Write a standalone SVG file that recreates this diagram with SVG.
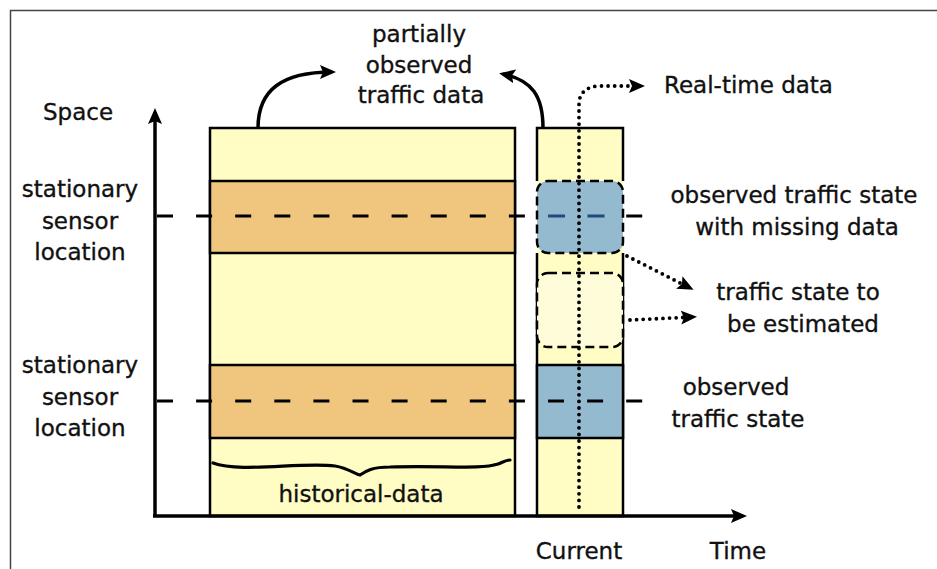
<svg xmlns="http://www.w3.org/2000/svg" width="937" height="569" viewBox="0 0 937 569">
<defs>
<style>
text{font-family:"DejaVu Sans","Liberation Sans",sans-serif;font-size:23px;fill:#111;stroke:#111;stroke-width:0.35;}
.mid{text-anchor:middle;}
.ax{stroke:#000;stroke-width:3.5;fill:none;}
.ln{stroke:#000;stroke-width:2.5;fill:none;}
.dash{stroke:#000;stroke-width:3;stroke-dasharray:16 23.1;fill:none;}
.dot{stroke:#000;stroke-width:3.8;stroke-linecap:round;stroke-dasharray:0 6.6;fill:none;}
.curve{stroke:#000;stroke-width:3.5;fill:none;}
</style>
<marker id="ahb" markerWidth="16" markerHeight="16" refX="12" refY="8" orient="auto" markerUnits="userSpaceOnUse" viewBox="0 0 16 16">
<path d="M0,1 L16,8 L0,15 L3,8 Z" fill="#000"/>
</marker>
</defs>
<rect width="937" height="569" fill="#fff"/>
<path d="M10.5 569 V10.5 H937" stroke="#444" stroke-width="1.5" fill="none"/>

<g id="historical">
<rect x="210" y="128" width="305" height="388" fill="#FFFDC4" stroke="#000" stroke-width="2.5"/>
<rect x="210" y="181" width="305" height="72" fill="#F0C67F" stroke="#000" stroke-width="2.5"/>
<rect x="210" y="365" width="305" height="73" fill="#F0C67F" stroke="#000" stroke-width="2.5"/>
<path d="M213 463 C240 473 300 462 335 466 C348 468 355 474 360 475 C366 471 372 467 390 467 C440 465 480 470 498 464 C503 462 506 460 510 460" stroke="#000" stroke-width="3.2" fill="none" stroke-linecap="round"/>
<text class="mid" x="361" y="502">historical-data</text>
</g>

<g id="current">
<rect x="537" y="128" width="86" height="388" fill="#FFFDC4"/>
<path d="M537 181 V128 H623 V181 M537 253 V516 H623 V253" class="ln"/>
<rect x="537" y="273" width="86" height="74" rx="11" fill="#FFFDD9"/>
<rect x="537" y="273" width="86" height="74" rx="11" fill="none" stroke="#000" stroke-width="2.5" stroke-dasharray="9 5"/>
<rect x="537" y="365" width="86" height="73" fill="#94BAD0" stroke="#000" stroke-width="2.5"/>
</g>

<g id="sensor-lines">
<path d="M157 216 H645" class="dash"/>
<path d="M157 401 H645" class="dash"/>
</g>

<g id="missing">
<rect x="537" y="181" width="86" height="72" rx="11" fill="#94BAD0"/>
<path d="M548 216 H565 M587.5 216 H604.5" stroke="#1F4A7A" stroke-width="3"/>
<rect x="537" y="181" width="86" height="72" rx="11" fill="none" stroke="#000" stroke-width="2.5" stroke-dasharray="9 5"/>
</g>

<g id="axes">
<path d="M155 516 V112" class="ax" marker-end="url(#ahb)"/>
<path d="M153 516 H743" class="ax" marker-end="url(#ahb)"/>
</g>

<g id="connectors">
<path d="M258 128 C258 90 282 72 332 72" class="curve" marker-end="url(#ahb)"/>
<path d="M543 128 C543 96 532 80 503 74" class="curve" marker-end="url(#ahb)"/>
<path d="M579 507 V104 C579 92 588 86 600 86 H641" class="dot" marker-end="url(#ahb)"/>
<path d="M627 256 L690 288" class="dot" marker-end="url(#ahb)"/>
<path d="M630 320 L693 317" class="dot" marker-end="url(#ahb)"/>
</g>

<g id="labels">
<text class="mid" x="78" y="120">Space</text>
<text class="mid" x="80" y="197">stationary</text>
<text class="mid" x="80" y="229">sensor</text>
<text class="mid" x="80" y="260">location</text>
<text class="mid" x="80" y="373">stationary</text>
<text class="mid" x="80" y="405">sensor</text>
<text class="mid" x="80" y="436">location</text>
<text class="mid" x="419" y="42">partially</text>
<text class="mid" x="419" y="73">observed</text>
<text class="mid" x="421" y="103">traffic data</text>
<text x="664" y="93">Real-time data</text>
<text class="mid" x="794" y="203">observed traffic state</text>
<text class="mid" x="797" y="235">with missing data</text>
<text class="mid" x="798" y="300">traffic state to</text>
<text class="mid" x="803" y="332">be estimated</text>
<text class="mid" x="736" y="395">observed</text>
<text class="mid" x="738" y="427">traffic state</text>
<text class="mid" x="579" y="559">Current</text>
<text class="mid" x="738" y="559">Time</text>
</g>
</svg>
